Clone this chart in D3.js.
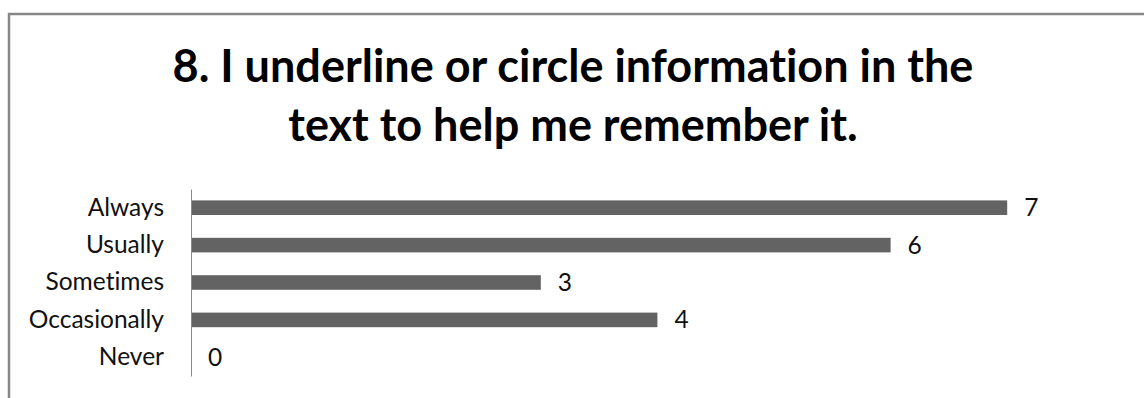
<!DOCTYPE html>
<html>
<head>
<meta charset="utf-8">
<script src="https://cdn.jsdelivr.net/npm/d3@7"></script>
<style>
  html, body { margin: 0; padding: 0; background: #fff; overflow: hidden; }
  svg { display: block; }
  text { font-variant-ligatures: none; font-feature-settings: "liga" 0; }
</style>
</head>
<body>
<svg id="chart" width="1144" height="398"></svg>
<script>
// Survey item 8: responses per frequency option
const categories = ["Always", "Usually", "Sometimes", "Occasionally", "Never"];
const counts = [7, 6, 3, 4, 0];
const titleLines = ["8. I underline or circle information in the", "text to help me remember it."];

const W = 1144, H = 398;
const svg = d3.select("#chart");

// chart frame
svg.append("rect")
  .attr("x", 9).attr("y", 14)
  .attr("width", W + 40).attr("height", H + 40)
  .attr("fill", "#fff")
  .attr("stroke", "#868686")
  .attr("stroke-width", 2.5);

// title
const title = svg.append("text")
  .attr("text-anchor", "middle")
  .attr("font-family", "Lato, 'Open Sans', sans-serif")
  .attr("font-weight", "bold")
  .attr("font-size", 45)
  .attr("fill", "#000");
titleLines.forEach((t, i) => {
  title.append("tspan").attr("x", 573).attr("y", 82 + i * 58.5).text(t);
});

// plot area
const plot = { left: 191, top: 189, bottom: 376 };
const y = d3.scaleBand()
  .domain(categories)
  .range([plot.top, plot.bottom])
  .paddingInner(0.61)
  .paddingOuter(0.305);
const x = d3.scaleLinear()
  .domain([0, 7])
  .range([plot.left, plot.left + 116.6 * 7]);

const g = svg.append("g");

g.selectAll("rect.bar")
  .data(categories)
  .join("rect")
  .attr("class", "bar")
  .attr("x", x(0))
  .attr("y", d => y(d))
  .attr("width", (d, i) => x(counts[i]) - x(0))
  .attr("height", y.bandwidth())
  .attr("fill", "#636363");

// category axis
const yAxis = d3.axisLeft(y).tickSize(0).tickPadding(27);
const ax = g.append("g")
  .attr("transform", `translate(${plot.left},0)`)
  .call(yAxis);
ax.select(".domain").attr("stroke", "#8a8a8a").attr("stroke-width", 1);
ax.selectAll("text")
  .attr("font-family", "Lato, 'Open Sans', sans-serif")
  .attr("font-size", 24.5)
  .attr("fill", "#111");

// value labels
g.selectAll("text.val")
  .data(categories)
  .join("text")
  .attr("class", "val")
  .attr("x", (d, i) => x(counts[i]) + 17)
  .attr("y", d => y(d) + y.bandwidth() / 2)
  .attr("dy", "0.35em")
  .attr("font-family", "Lato, 'Open Sans', sans-serif")
  .attr("font-size", 24.5)
  .attr("fill", "#111")
  .text((d, i) => counts[i]);
</script>
</body>
</html>
